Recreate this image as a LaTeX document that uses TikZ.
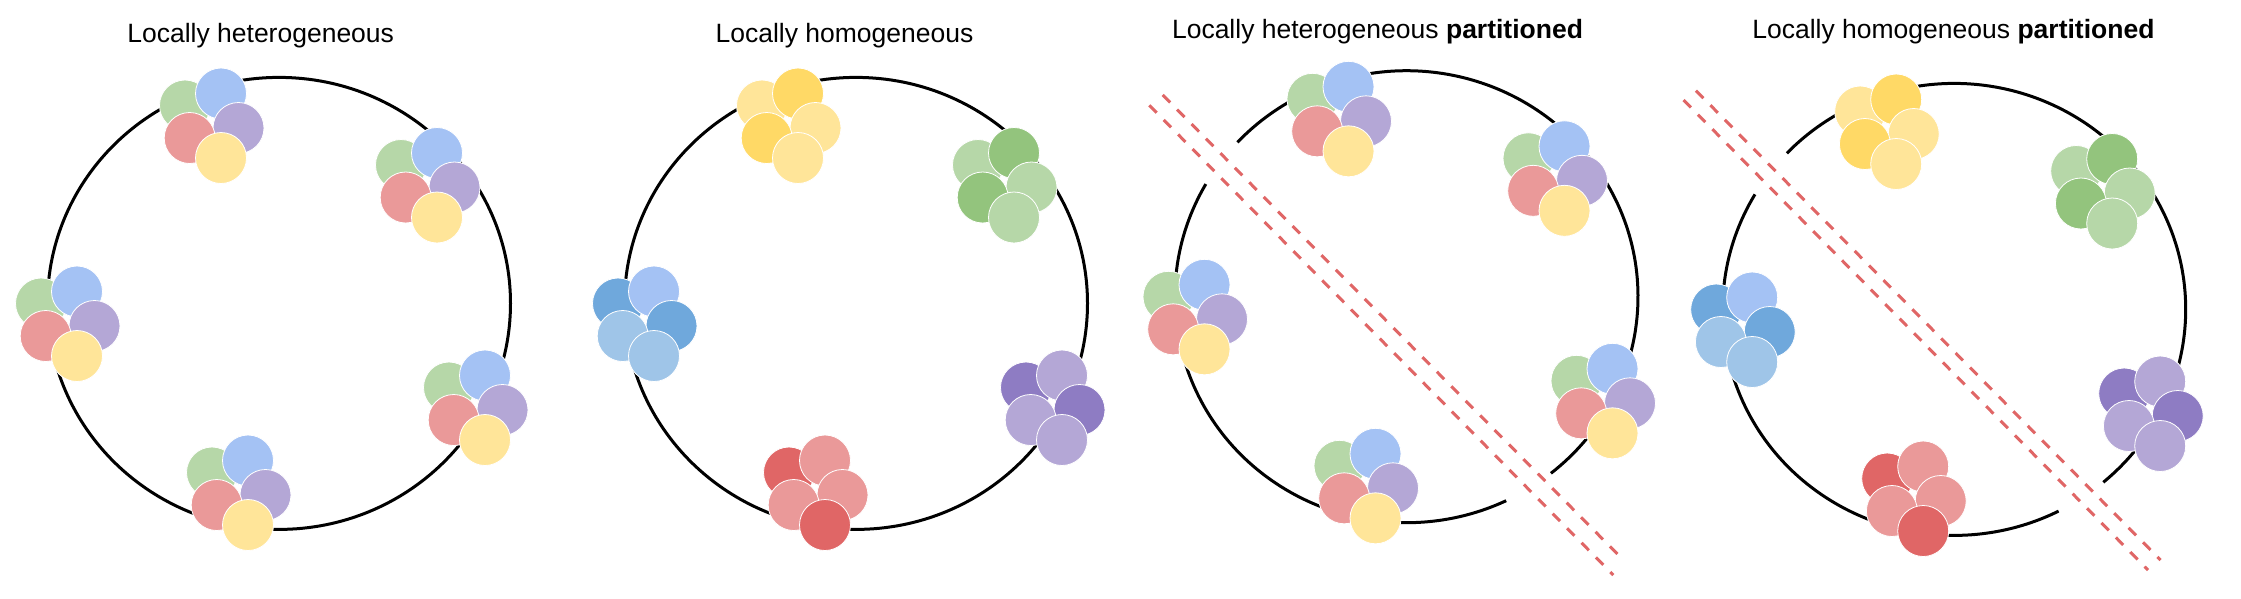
\documentclass[tikz,border=0pt]{standalone}
\usepackage{fontspec}
\setmainfont{Liberation Sans}
\definecolor{cG}{HTML}{B6D7A8}
\definecolor{cGd}{HTML}{93C47D}
\definecolor{cB}{HTML}{A4C2F4}
\definecolor{cBm}{HTML}{9FC5E8}
\definecolor{cBd}{HTML}{6FA8DC}
\definecolor{cP}{HTML}{B4A7D6}
\definecolor{cPd}{HTML}{8E7CC3}
\definecolor{cR}{HTML}{EA9999}
\definecolor{cRd}{HTML}{E06666}
\definecolor{cY}{HTML}{FFE599}
\definecolor{cYd}{HTML}{FFD966}
\definecolor{cut}{HTML}{E06666}
% cluster: #1,#2 image position of first ball; #3..#7 colours
\newcommand\clust[7]{%
  \begin{scope}[shift={(#1,-#2)}]
    \filldraw[blob,fill=#3] (0,0) circle[radius=25.5];
    \filldraw[blob,fill=#4] (36,12) circle[radius=25.5];
    \filldraw[blob,fill=#5] (53.5,-22.5) circle[radius=25.5];
    \filldraw[blob,fill=#6] (4.7,-32.5) circle[radius=25.5];
    \filldraw[blob,fill=#7] (36,-52.5) circle[radius=25.5];
  \end{scope}}
\newcommand\hetclust[2]{\clust{#1}{#2}{cG}{cB}{cP}{cR}{cY}}
\begin{document}
\begin{tikzpicture}[x=1pt,y=1pt,
  blob/.style={draw=white,line width=0.8pt},
  ring/.style={draw=black,line width=3pt},
  cutline/.style={draw=cut,line width=3pt,dash pattern=on 10.5pt off 10pt},
  title/.style={font=\fontsize{26.5}{30}\selectfont,anchor=base,inner sep=0pt}]
\useasboundingbox (0,0) rectangle (2241,-598);
\fill[white] (0,0) rectangle (2241,-598);
% titles
\node[title] (t1) at (260.7,-42.7) {Locally heterogeneous};
\node[title] (t2) at (844.5,-42.7) {Locally homogeneous};
\node[title] (t3) at (1377.5,-38.8) {Locally heterogeneous \textbf{partitioned}};
\node[title] (t4) at (1953.4,-38.8) {Locally homogeneous \textbf{partitioned}};
% ring centres
\coordinate (r1) at (279,-303.4);
\coordinate (r2) at (856,-303.4);
\coordinate (r3) at (1406.5,-296.7);
\coordinate (r4) at (1954.2,-309.4);
% rings
\draw[ring] (r1) ellipse[x radius=231.5,y radius=226];
\draw[ring] (r2) ellipse[x radius=231.5,y radius=226];
\draw[ring] ([shift={(150.1:231.5 and 226)}]r3) arc[start angle=150.1,end angle=295.5,x radius=231.5,y radius=226];
\draw[ring] ([shift={(308.6:231.5 and 226)}]r3) arc[start angle=308.6,end angle=496.9,x radius=231.5,y radius=226];
\draw[ring] ([shift={(149.4:231.5 and 226)}]r4) arc[start angle=149.4,end angle=296.8,x radius=231.5,y radius=226];
\draw[ring] ([shift={(310.1:231.5 and 226)}]r4) arc[start angle=310.1,end angle=496.3,x radius=231.5,y radius=226];
% partition lines
\coordinate (a3s) at (1162.7,-95);
\coordinate (a3e) at (1621.7,-558.3);
\coordinate (b3s) at (1149.3,-105.3);
\coordinate (b3e) at (1613.3,-575);
\coordinate (a4s) at (1696,-90.7);
\coordinate (a4e) at (2160.5,-560);
\coordinate (b4s) at (1683.5,-100);
\coordinate (b4e) at (2148,-570);
\draw[cutline] (a3s) -- (a3e);
\draw[cutline] (b3s) -- (b3e);
\draw[cutline] (a4s) -- (a4e);
\draw[cutline] (b4s) -- (b4e);
% panel 1: heterogeneous
\hetclust{185}{105.5}
\hetclust{401}{165}
\hetclust{41}{303.5}
\hetclust{449}{387.5}
\hetclust{212}{472.5}
% panel 2: homogeneous (shift 577,0)
\clust{762}{105.5}{cY}{cYd}{cY}{cYd}{cY}
\clust{978}{165}{cG}{cGd}{cG}{cGd}{cG}
\clust{618}{303.5}{cBd}{cB}{cBd}{cBm}{cBm}
\clust{1026}{387.5}{cPd}{cP}{cPd}{cP}{cP}
\clust{789}{472.5}{cRd}{cR}{cR}{cR}{cRd}
% panel 3: heterogeneous partitioned (shift 1127.5,-6.7)
\hetclust{1312.5}{98.8}
\hetclust{1528.5}{158.3}
\hetclust{1168.5}{296.8}
\hetclust{1576.5}{380.8}
\hetclust{1339.5}{465.8}
% panel 4: homogeneous partitioned (shift 1675.2,6)
\clust{1860.2}{111.5}{cY}{cYd}{cY}{cYd}{cY}
\clust{2076.2}{171}{cG}{cGd}{cG}{cGd}{cG}
\clust{1716.2}{309.5}{cBd}{cB}{cBd}{cBm}{cBm}
\clust{2124.2}{393.5}{cPd}{cP}{cPd}{cP}{cP}
\clust{1887.2}{478.5}{cRd}{cR}{cR}{cR}{cRd}
\end{tikzpicture}
\end{document}
